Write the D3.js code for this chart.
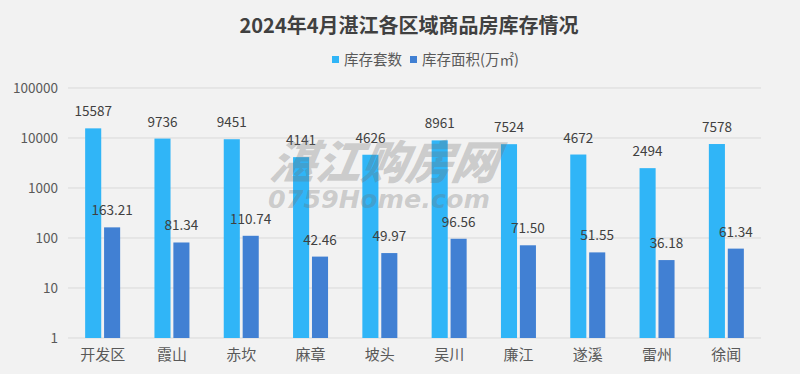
<!DOCTYPE html>
<html>
<head>
<meta charset="utf-8">
<script src="https://cdn.jsdelivr.net/npm/d3@7"></script>
<style>
  body { margin: 0; background: #f2f2f2; }
  svg { display: block; font-family: "Noto Sans CJK SC", "Noto Sans", sans-serif; }
</style>
</head>
<body>
<div id="chart"></div>
<script>
// Chart data
var regions = ["开发区", "霞山", "赤坎", "麻章", "坡头", "吴川", "廉江", "遂溪", "雷州", "徐闻"];
var units = [15587, 9736, 9451, 4141, 4626, 8961, 7524, 4672, 2494, 7578];
var areas = [163.21, 81.34, 110.74, 42.46, 49.97, 96.56, 71.50, 51.55, 36.18, 61.34];
var seriesNames = ["库存套数", "库存面积(万㎡)"];
var yTicks = [1, 10, 100, 1000, 10000, 100000];

var svgWidth = 800;
var svgHeight = 374;

var margin = { top: 88, right: 39, bottom: 36, left: 68 };
var chartWidth = svgWidth - margin.left - margin.right;
var chartHeight = svgHeight - margin.top - margin.bottom;

var colors = ["#30b5f7", "#4180d3"];

var svg = d3
  .select("#chart")
  .append("svg")
  .attr("width", svgWidth)
  .attr("height", svgHeight);

svg.append("rect")
  .attr("width", svgWidth)
  .attr("height", svgHeight)
  .attr("fill", "#f2f2f2");

// title
svg.append("text")
  .attr("x", 409)
  .attr("y", 33)
  .attr("text-anchor", "middle")
  .attr("font-size", 20)
  .attr("font-weight", "bold")
  .attr("fill", "#404040")
  .text("2024年4月湛江各区域商品房库存情况");

// legend
var legendX = [332, 410];
var legend = svg.append("g")
  .selectAll("g")
  .data(seriesNames)
  .enter()
  .append("g")
  .attr("transform", (d, i) => `translate(${legendX[i]}, 60)`);

legend.append("rect")
  .attr("x", 0)
  .attr("y", -4)
  .attr("width", 7)
  .attr("height", 7)
  .attr("fill", (d, i) => colors[i]);

legend.append("text")
  .attr("x", 12)
  .attr("y", 5)
  .attr("font-size", 14.5)
  .attr("fill", "#595959")
  .text(d => d);

var chartGroup = svg
  .append("g")
  .attr("transform", `translate(${margin.left}, ${margin.top})`);

// scales
var xScale = d3.scaleBand()
  .domain(regions)
  .range([0, chartWidth]);

var x1 = d3.scaleBand()
  .domain([0, 1])
  .range([0, 35])
  .paddingInner(0.15);

var yScale = d3.scaleLog()
  .domain([1, 100000])
  .range([chartHeight, 0]);

// gridlines
chartGroup.append("g")
  .selectAll("line")
  .data(yTicks)
  .enter()
  .append("line")
  .attr("x1", 0)
  .attr("x2", chartWidth)
  .attr("y1", d => yScale(d))
  .attr("y2", d => yScale(d))
  .attr("stroke", "#d9d9d9")
  .attr("stroke-width", 1);

// y axis
var leftAxis = d3.axisLeft(yScale)
  .tickValues(yTicks)
  .tickFormat(d3.format("d"))
  .tickSize(0)
  .tickPadding(10);

var yAxis = chartGroup.append("g").call(leftAxis);
yAxis.select(".domain").remove();
yAxis.selectAll("text")
  .attr("font-size", 13.5)
  .attr("fill", "#595959")
  .attr("font-family", "\"Noto Sans CJK SC\", sans-serif");

// x axis
var bottomAxis = d3.axisBottom(xScale).tickSize(0).tickPadding(8);
var xAxis = chartGroup.append("g")
  .attr("transform", `translate(0, ${chartHeight})`)
  .call(bottomAxis);
xAxis.select(".domain").remove();
xAxis.selectAll("text")
  .attr("font-size", 15)
  .attr("fill", "#595959")
  .attr("dy", "0.9em")
  .attr("font-family", "\"Noto Sans CJK SC\", sans-serif");

// bars
var rows = regions.map((r, i) => ({ region: r, values: [units[i], areas[i]] }));

var groups = chartGroup.selectAll("g.region")
  .data(rows)
  .enter()
  .append("g")
  .attr("class", "region")
  .attr("transform", d => `translate(${xScale(d.region) + xScale.bandwidth() / 2 - 17.5}, 0)`);

var fmt = [d3.format("d"), d3.format(".2f")];

groups.selectAll("rect")
  .data(d => d.values)
  .enter()
  .append("rect")
  .attr("x", (d, i) => x1(i))
  .attr("y", d => yScale(d))
  .attr("width", x1.bandwidth())
  .attr("height", d => chartHeight - yScale(d))
  .attr("fill", (d, i) => colors[i]);

groups.selectAll("text")
  .data(d => d.values)
  .enter()
  .append("text")
  .attr("x", (d, i) => x1(i) + x1.bandwidth() / 2)
  .attr("y", d => yScale(d) - 12)
  .attr("text-anchor", "middle")
  .attr("font-size", 13.5)
  .attr("fill", "#404040")
  .text((d, i) => fmt[i](d));

// watermark
var mark = svg.append("g")
  .attr("fill", "rgba(110,110,110,0.3)")
  .attr("font-style", "italic")
  .attr("font-weight", 900);

mark.append("text")
  .attr("x", 268)
  .attr("y", 179)
  .attr("font-size", 46)
  .attr("textLength", 227)
  .attr("lengthAdjust", "spacingAndGlyphs")
  .attr("transform", "skewX(-10) translate(32, 0)")
  .text("湛江购房网");

mark.append("text")
  .attr("x", 268)
  .attr("y", 208)
  .attr("font-size", 25)
  .attr("font-family", "\"DejaVu Sans\", sans-serif")
  .attr("font-weight", "bold")
  .attr("textLength", 222)
  .attr("lengthAdjust", "spacingAndGlyphs")
  .text("0759Home.com");
</script>
</body>
</html>
